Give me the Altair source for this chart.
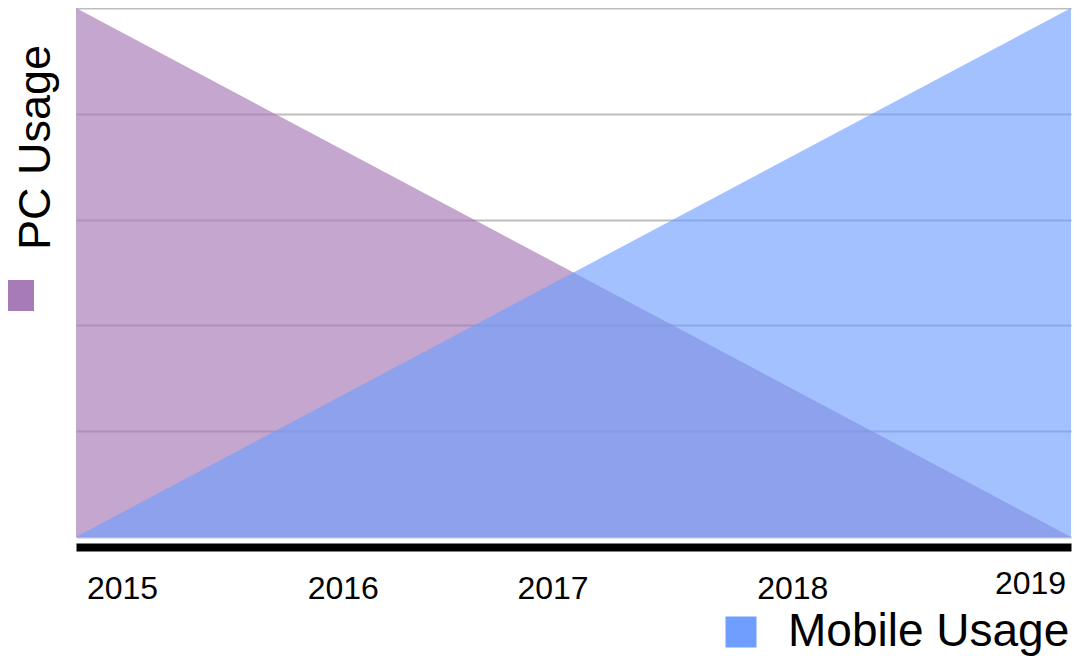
import altair as alt
import pandas as pd

# ---- data ----
years = [2015, 2016, 2017, 2018, 2019]
pc_usage = [100, 75, 50, 25, 0]
mobile_usage = [0, 25, 50, 75, 100]
series_names = ["PC Usage", "Mobile Usage"]
series_colors = ["#A77BB6", "#6F9EFF"]
grid_values = [0, 20, 40, 60, 80, 100]

# ---- style: horizontal shift of each year label (px) ----
label_shift = [46, 18, -21, -30, -41]
FONT = "Liberation Sans"

df_pc = pd.DataFrame({"year": years, "value": pc_usage, "series": series_names[0]})
df_mob = pd.DataFrame({"year": years, "value": mobile_usage, "series": series_names[1]})

offset_expr = ""
for yv, s in zip(years, label_shift):
    offset_expr += f"datum.value == {yv} ? {s} : "
offset_expr += "0"

x_enc = alt.X(
    "year:Q",
    scale=alt.Scale(domain=[years[0], years[-1]], nice=False, zero=False),
    axis=alt.Axis(
        values=years, format="d", title=None, ticks=False, grid=False,
        domainColor="black", domainWidth=8, offset=10,
        labelFont=FONT, labelFontSize=32, labelColor="black",
        labelBaseline="top", labelFlush=False,
        labelPadding=alt.ExprRef("datum.value == 2019 ? 21 : 26"),
        labelOffset=alt.ExprRef(offset_expr),
    ),
)

y_enc = alt.Y(
    "value:Q",
    scale=alt.Scale(domain=[0, 100], nice=False),
    axis=alt.Axis(
        values=grid_values, labels=False, ticks=False, domain=False,
        grid=True, gridColor="#bdbdbd", gridWidth=2,
        title=series_names[0], titleFont=FONT, titleFontSize=45,
        titleFontWeight="normal", titleColor="black", titleAngle=270,
        titleX=-27, titleY=139, titleAlign="center", titleBaseline="alphabetic",
    ),
)

pc = alt.Chart(df_pc).mark_area(opacity=0.67, interpolate="linear").encode(
    x=x_enc, y=y_enc,
    color=alt.Color(
        "series:N",
        scale=alt.Scale(domain=[series_names[0]], range=[series_colors[0]]),
        legend=alt.Legend(
            orient="none", legendX=-73, legendY=272, title=None, padding=0,
            symbolType="square", symbolSize=961, symbolOpacity=1,
            symbolStrokeWidth=0, labelExpr="''", labelFontSize=1,
        ),
    ),
)

mob = alt.Chart(df_mob).mark_area(opacity=0.64, interpolate="linear").encode(
    x=x_enc, y=y_enc,
    color=alt.Color(
        "series:N",
        scale=alt.Scale(domain=[series_names[1]], range=[series_colors[1]]),
        legend=alt.Legend(
            orient="none", legendX=642, legendY=601, title=None, padding=0,
            symbolType="square", symbolSize=961, symbolOpacity=1,
            symbolStrokeWidth=0, labelFont=FONT, labelFontSize=46,
            labelColor="black", labelOffset=24, labelLimit=0,
        ),
    ),
)

chart = (
    alt.layer(pc, mob)
    .resolve_scale(color="independent")
    .properties(
        width=995, height=529,
        autosize=alt.AutoSizeParams(type="none"),
        padding={"left": 68, "top": 0, "right": 2, "bottom": 120},
    )
    .configure_view(stroke=None)
)

chart.save("out.html", embed_options={"renderer": "svg", "actions": False})
